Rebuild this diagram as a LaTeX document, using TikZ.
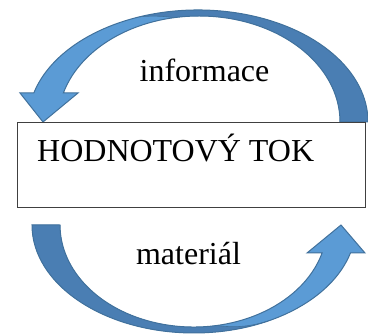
\documentclass[tikz,border=0pt]{standalone}
\usepackage{fontspec}
\setmainfont{Liberation Serif}
\definecolor{arrowlight}{HTML}{5B9BD5}
\definecolor{arrowdark}{HTML}{4A7EB3}
\definecolor{arrowline}{HTML}{41719C}
\begin{document}
\begin{tikzpicture}[x=1pt,y=1pt,
  txt/.style={font=\fontsize{32}{36}\selectfont, inner sep=0pt},
  framebox/.style={draw=black!75, line width=0.9pt, inner sep=0pt},
  outline/.style={draw=arrowline, line width=1pt, line join=miter},
  % upper curved arrow: tail on the right, head pointing down on the left
  toparrow/.style={insert path={
    (33.8,241) arc[start angle=165, end angle=0, x radius=170, y radius=112]
    -- (340,212) arc[start angle=0, end angle=164.12, x radius=141, y radius=106]
    -- (78,241) -- (43,212) -- (20,241) -- cycle}},
  % darker back face of the upper arrow
  topback/.style={insert path={
    (139.9,317.2) arc[start angle=110, end angle=0, x radius=170, y radius=112]
    -- (250,212) -- (250,270) .. controls (230,300) and (190,322) .. (139.9,317.2) -- cycle}},
  % lower curved arrow: tail on the left, head pointing up on the right
  botarrow/.style={insert path={
    (32,109) arc[start angle=180, end angle=344.97, x radius=162, y radius=108]
    -- (365,81) -- (341,109) -- (307,81)
    -- (322.1,81) arc[start angle=344.07, end angle=180, x radius=133.6, y radius=102]
    -- cycle}},
  % darker back face of the lower arrow
  botback/.style={insert path={
    (32,109) arc[start angle=180, end angle=298, x radius=162, y radius=108]
    .. controls (235,2) and (200,4) .. (140,40) -- (140,109) -- cycle}}
]
\useasboundingbox (0,0) rectangle (368,334);

% upper arrow
\begin{scope}
  \clip[toparrow];
  \fill[arrowlight] (0,0) rectangle (368,334);
  \fill[arrowdark, topback];
  \draw[arrowline, line width=0.6pt] (250,270) .. controls (230,300) and (190,322) .. (139.9,317.2);
\end{scope}
\path[outline, toparrow];

% lower arrow
\begin{scope}
  \clip[botarrow];
  \fill[arrowlight] (0,0) rectangle (368,334);
  \fill[arrowdark, botback];
  \draw[arrowline, line width=0.6pt] (270.05,13.64) .. controls (235,2) and (200,4) .. (140,40);
\end{scope}
\path[outline, botarrow];

% value stream box
\node[framebox, minimum width=348pt, minimum height=85pt] (box) at (191,169.5) {};
\node[txt, anchor=base west] (title) at (37,172) {HODNOTOVÝ TOK};

% flow labels
\node[txt, anchor=base] (info) at (204.5,252) {informace};
\node[txt, anchor=base] (mat) at (188.5,69) {materiál};
\end{tikzpicture}
\end{document}
